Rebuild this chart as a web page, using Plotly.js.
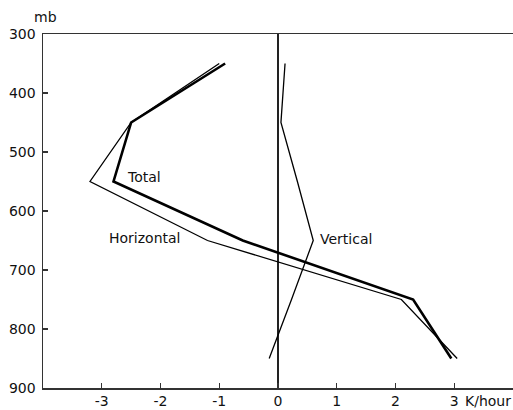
<!DOCTYPE html>
<html>
<head>
<meta charset="utf-8">
<script src="https://cdn.plot.ly/plotly-3.0.1.min.js"></script>
<style>html,body{margin:0;padding:0;background:#fff;}#chart{width:513px;height:410px;}</style>
</head>
<body>
<div id="chart"></div>
<script>
var pressure = [350, 450, 550, 650, 750, 850];
var total = [-0.9, -2.5, -2.8, -0.6, 2.3, 2.95];
var horizontal = [-1.0, -2.5, -3.2, -1.2, 2.1, 3.05];
var vertical = [0.12, 0.05, 0.33, 0.6, 0.23, -0.15];
var xTicks = [-3, -2, -1, 0, 1, 2, 3];
var yTicks = [300, 400, 500, 600, 700, 800, 900];

var font = {family: 'DejaVu Sans, sans-serif', size: 14, color: '#111'};

var traces = [
  {x: horizontal, y: pressure, mode: 'lines', name: 'Horizontal', line: {color: '#000', width: 1.3}},
  {x: vertical, y: pressure, mode: 'lines', name: 'Vertical', line: {color: '#000', width: 1.3}},
  {x: total, y: pressure, mode: 'lines', name: 'Total', line: {color: '#000', width: 2.6}}
];

var layout = {
  width: 513, height: 410,
  margin: {l: 43, r: 0, t: 34, b: 22},
  paper_bgcolor: '#fff', plot_bgcolor: '#fff',
  showlegend: false,
  font: font,
  xaxis: {
    range: [-4, 4], tickvals: xTicks, ticktext: xTicks.map(String),
    showgrid: false, zeroline: true, zerolinecolor: '#222', zerolinewidth: 1.1,
    showline: true, linecolor: '#333', linewidth: 1.5, mirror: true,
    ticks: 'inside', ticklen: 5, tickcolor: '#333', tickwidth: 1.2,
    tickfont: font
  },
  yaxis: {
    range: [900, 300], tickvals: yTicks, ticktext: yTicks.map(String),
    showgrid: false, zeroline: false,
    showline: true, linecolor: '#333', linewidth: 1.5,
    ticks: 'inside', ticklen: 5, tickcolor: '#333', tickwidth: 1.2,
    ticklabelstandoff: 3,
    tickfont: font
  },
  annotations: [
    {text: 'mb', xref: 'paper', yref: 'paper', x: -0.024, y: 1.0, yshift: 17, xanchor: 'left', yanchor: 'middle', showarrow: false, font: font},
    {text: 'K/hour', xref: 'paper', yref: 'paper', x: 1.0, y: 0, yshift: -13, xanchor: 'right', yanchor: 'middle', showarrow: false, font: font},
    {text: 'Total', xref: 'x', yref: 'y', x: -2.28, y: 543, xanchor: 'center', yanchor: 'middle', showarrow: false, font: font},
    {text: 'Horizontal', xref: 'x', yref: 'y', x: -2.27, y: 645, xanchor: 'center', yanchor: 'middle', showarrow: false, font: font},
    {text: 'Vertical', xref: 'x', yref: 'y', x: 1.16, y: 648, xanchor: 'center', yanchor: 'middle', showarrow: false, font: font}
  ]
};

Plotly.newPlot('chart', traces, layout, {displayModeBar: false, staticPlot: true});
</script>
</body>
</html>
